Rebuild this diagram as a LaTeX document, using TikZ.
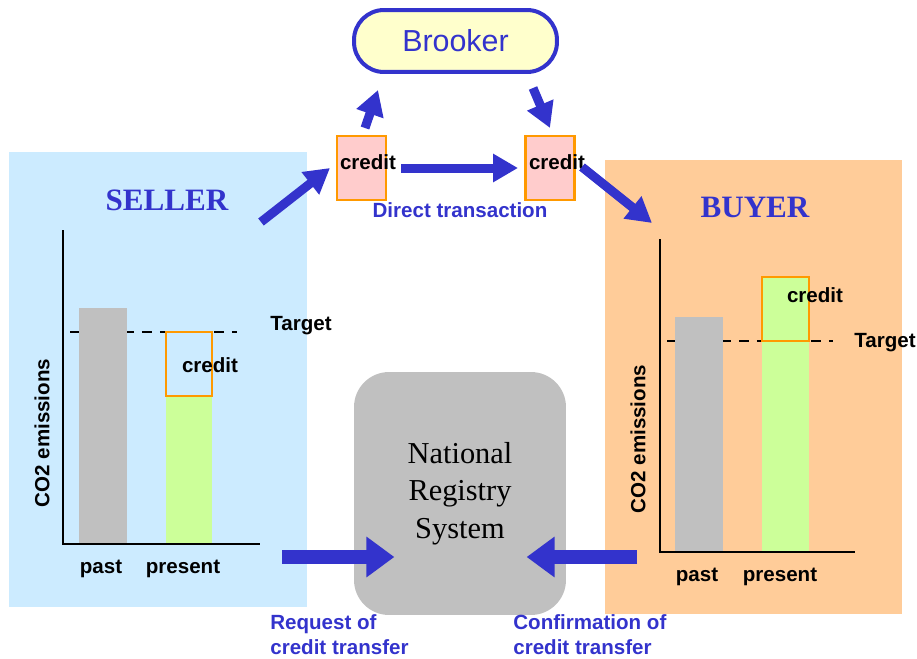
\documentclass[tikz,border=0pt]{standalone}
\usepackage{fontspec}
\setmainfont{Liberation Serif}
\setsansfont{Liberation Sans}
\usetikzlibrary{arrows.meta}

\definecolor{flowblue}{HTML}{3333CC}
\definecolor{sellerbg}{HTML}{CCEBFF}
\definecolor{buyerbg}{HTML}{FFCC99}
\definecolor{brookerbg}{HTML}{FFFFCC}
\definecolor{creditbg}{HTML}{FFCCCC}
\definecolor{creditline}{HTML}{FF9900}
\definecolor{pastbar}{HTML}{C0C0C0}
\definecolor{presentbar}{HTML}{CCFF99}

\begin{document}
\begin{tikzpicture}[x=0.02cm, y=-0.02cm,
    lbl/.style={font=\sffamily\bfseries\fontsize{11.7}{14.2}\selectfont, inner sep=0pt},
    bluelbl/.style={lbl, text=flowblue, align=left},
    title/.style={font=\rmfamily\bfseries\fontsize{17.7}{20}\selectfont, text=flowblue, inner sep=0pt},
    flow/.style={draw=flowblue, line width=0.18cm, -{Triangle[length=0.5cm, width=0.54cm]}},
    bigflow/.style={draw=flowblue, line width=0.28cm, -{Triangle[length=0.56cm, width=0.78cm]}},
    creditbox/.style={draw=creditline, fill=creditbg, line width=0.045cm, minimum width=0.98cm, minimum height=1.28cm, inner sep=0pt},
    axis/.style={line width=0.05cm},
    target/.style={line width=0.04cm, dash pattern=on 0.2cm off 0.16cm},
]
\useasboundingbox (0,0) rectangle (917,659);

% panels
\fill[sellerbg] (9,152) rectangle (307,607);
\fill[buyerbg] (605,160) rectangle (902,614);

\node [title] (sellertitle) at (167,200) {SELLER};
\node [title] (buyertitle) at (755,207) {BUYER};

% seller chart
\draw[target] (70,332) -- (237,332);
\fill[pastbar] (79,308) rectangle (127,544);
\fill[presentbar] (166,396) rectangle (212,544);
\draw[creditline, line width=0.045cm] (166,332) rectangle (212,396);
\draw[axis] (63,230) -- (63,544) -- (260,544);
\node [lbl] (sellercredit) at (210,365) {credit};
\node [lbl] (sellertarget) at (301,326) {Target};
\node [lbl, rotate=90] (sellerco) at (42,433) {CO2 emissions};
\node [lbl] (sellerpast) at (101,569) {past};
\node [lbl] (sellerpresent) at (183,569) {present};

% buyer chart
\draw[target] (667,341) -- (833,341);
\fill[pastbar] (675,317) rectangle (723,552);
\fill[presentbar] (762,277) rectangle (809,552);
\draw[creditline, line width=0.045cm] (762,277) rectangle (809,341);
\draw[axis] (660,239) -- (660,552) -- (855,552);
\node [lbl] (buyercredit) at (815,295) {credit};
\node [lbl] (buyertarget) at (885,343) {Target};
\node [lbl, rotate=90] (buyerco) at (638,439) {CO2 emissions};
\node [lbl] (buyerpast) at (697,577) {past};
\node [lbl] (buyerpresent) at (780,577) {present};

% trading
\node [draw=flowblue, fill=brookerbg, line width=0.08cm, rounded corners=0.6cm,
       minimum width=4.06cm, minimum height=1.24cm,
       font=\sffamily\fontsize{17.3}{20}\selectfont, text=flowblue] (brooker) at (455.5,41) {Brooker};
\node [creditbox] (credA) at (361.5,168) {};
\node [creditbox] (credB) at (550,168) {};
\node [lbl] (credAtxt) at (368,162) {credit};
\node [lbl] (credBtxt) at (557,162) {credit};
\node [bluelbl] (direct) at (460,210) {Direct transaction};

\coordinate (sellerout) at (261,222);
\coordinate (credAin) at (330,168);
\coordinate (credAup) at (365,128);
\coordinate (brookerin) at (378,90);
\coordinate (brookerout) at (533,88);
\coordinate (credBin) at (550,128);
\coordinate (credAout) at (401,168);
\coordinate (credBleft) at (518,168);
\coordinate (credBout) at (582,167);
\coordinate (buyerin) at (652,223);

\draw[flow] (sellerout) -- (credAin);
\draw[flow] (credAup) -- (brookerin);
\draw[flow] (brookerout) -- (credBin);
\draw[flow] (credAout) -- (credBleft);
\draw[flow] (credBout) -- (buyerin);

% registry
\node [fill=pastbar, rounded corners=0.7cm, minimum width=4.24cm, minimum height=4.86cm,
       align=center, font=\rmfamily\fontsize{17.3}{21.3}\selectfont] (registry) at (460,493.5) {National\\Registry\\System};

\coordinate (request) at (282,557);
\coordinate (confirm) at (637,557);
\draw[bigflow] (request) -- ([xshift=-3.44cm]registry.east |- request);
\draw[bigflow] (confirm) -- ([xshift=3.46cm]registry.west |- confirm);

\node [bluelbl, anchor=west] (requestlbl) at (270,635) {Request of\\credit transfer};
\node [bluelbl, anchor=west] (confirmlbl) at (513,635) {Confirmation of\\credit transfer};

\end{tikzpicture}
\end{document}
